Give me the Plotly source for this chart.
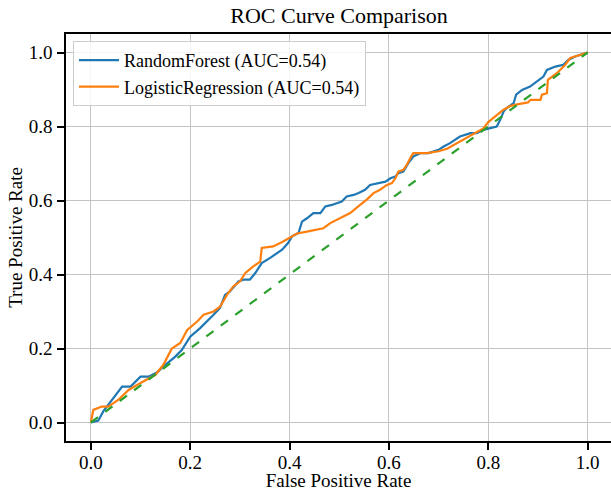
import plotly.graph_objects as go

# ---- data ----
rf_fpr = [0.000, 0.015, 0.025, 0.040, 0.063, 0.080, 0.100, 0.116, 0.133, 0.150,
          0.170, 0.183, 0.200, 0.220, 0.234, 0.247, 0.260, 0.270, 0.280, 0.297,
          0.307, 0.320, 0.331, 0.344, 0.361, 0.375, 0.385, 0.397, 0.405, 0.418,
          0.425, 0.435, 0.448, 0.462, 0.472, 0.485, 0.505, 0.515, 0.529, 0.539,
          0.552, 0.562, 0.576, 0.593, 0.603, 0.613, 0.619, 0.629, 0.639, 0.649,
          0.663, 0.680, 0.700, 0.710, 0.723, 0.743, 0.764, 0.777, 0.790, 0.804,
          0.817, 0.824, 0.831, 0.837, 0.851, 0.856, 0.868, 0.884, 0.898, 0.911,
          0.918, 0.935, 0.951, 0.961, 0.975, 0.988, 1.000]
rf_tpr = [0.000, 0.005, 0.030, 0.056, 0.097, 0.097, 0.124, 0.124, 0.135, 0.156,
          0.178, 0.196, 0.232, 0.255, 0.273, 0.291, 0.310, 0.345, 0.354, 0.381,
          0.386, 0.386, 0.404, 0.431, 0.445, 0.458, 0.467, 0.485, 0.503, 0.512,
          0.543, 0.552, 0.566, 0.566, 0.584, 0.588, 0.597, 0.611, 0.615, 0.620,
          0.629, 0.642, 0.647, 0.651, 0.660, 0.665, 0.674, 0.678, 0.701, 0.719,
          0.728, 0.728, 0.737, 0.746, 0.755, 0.773, 0.782, 0.782, 0.791, 0.796,
          0.800, 0.818, 0.841, 0.850, 0.863, 0.886, 0.899, 0.908, 0.922, 0.935,
          0.953, 0.962, 0.967, 0.980, 0.989, 0.994, 1.000]

lr_fpr = [0.000, 0.005, 0.022, 0.035, 0.055, 0.076, 0.100, 0.130, 0.146, 0.163,
          0.180, 0.194, 0.214, 0.227, 0.247, 0.260, 0.274, 0.287, 0.300, 0.311,
          0.327, 0.341, 0.344, 0.367, 0.387, 0.401, 0.415, 0.435, 0.455, 0.468,
          0.482, 0.502, 0.522, 0.542, 0.556, 0.569, 0.582, 0.596, 0.606, 0.613,
          0.619, 0.629, 0.636, 0.643, 0.649, 0.676, 0.700, 0.717, 0.737, 0.757,
          0.777, 0.790, 0.800, 0.814, 0.830, 0.844, 0.858, 0.880, 0.885, 0.905,
          0.908, 0.918, 0.920, 0.938, 0.955, 0.965, 0.978, 1.000]
lr_tpr = [0.000, 0.034, 0.043, 0.043, 0.061, 0.088, 0.107, 0.129, 0.156, 0.200,
          0.215, 0.250, 0.273, 0.291, 0.300, 0.313, 0.345, 0.368, 0.381, 0.404,
          0.422, 0.435, 0.472, 0.476, 0.489, 0.500, 0.511, 0.516, 0.521, 0.525,
          0.539, 0.552, 0.566, 0.588, 0.603, 0.620, 0.629, 0.642, 0.647, 0.660,
          0.678, 0.683, 0.696, 0.715, 0.728, 0.728, 0.733, 0.740, 0.755, 0.770,
          0.784, 0.795, 0.812, 0.827, 0.845, 0.855, 0.860, 0.865, 0.872, 0.872,
          0.886, 0.890, 0.926, 0.944, 0.967, 0.985, 0.990, 1.000]

chance = [0.0, 1.0]
series_names = ["RandomForest (AUC=0.54)", "LogisticRegression (AUC=0.54)"]
tick_vals = [0.0, 0.2, 0.4, 0.6, 0.8, 1.0]
tick_text = ["0.0", "0.2", "0.4", "0.6", "0.8", "1.0"]

FONT = "Liberation Serif, Times New Roman, serif"

fig = go.Figure()
fig.add_trace(go.Scatter(x=rf_fpr, y=rf_tpr, mode="lines", name=series_names[0],
                         line=dict(color="#1f77b4", width=2.2)))
fig.add_trace(go.Scatter(x=lr_fpr, y=lr_tpr, mode="lines", name=series_names[1],
                         line=dict(color="#ff7f0e", width=2.2)))
fig.add_trace(go.Scatter(x=chance, y=chance, mode="lines", showlegend=False,
                         line=dict(color="#2ca02c", width=2.2, dash="dash")))

axis_common = dict(
    showline=True, linecolor="black", linewidth=1.5,
    ticks="outside", ticklen=7, tickwidth=1.5, tickcolor="black",
    showgrid=True, gridcolor="#c4c4c4", gridwidth=1.3,
    zeroline=False, tickfont=dict(size=19, color="black", family=FONT),
    tickvals=tick_vals, ticktext=tick_text, automargin=False,
)

fig.update_layout(
    width=611, height=491, autosize=False,
    margin=dict(l=66, r=0, t=34, b=50, pad=0),
    paper_bgcolor="white", plot_bgcolor="white",
    font=dict(family=FONT, color="black"),
    title=dict(text="ROC Curve Comparison", x=(66 + 612) / 2 / 611, xanchor="center",
               y=1 - 15 / 491, yanchor="middle", yref="container",
               font=dict(size=22, family=FONT, color="black"), automargin=False),
    xaxis=dict(range=[-0.05, 1.047], mirror=True, ticklabelstandoff=-4,
               title=dict(text="False Positive Rate", font=dict(size=19), standoff=3),
               **axis_common),
    yaxis=dict(range=[-0.05, 1.05], mirror=False, ticklabelstandoff=1,
               title=dict(text="True Positive Rate", font=dict(size=19), standoff=1),
               **axis_common),
    legend=dict(x=(73 - 66) / 545, y=1 - (41 - 34) / 407, xanchor="left", yanchor="top",
                bgcolor="rgba(255,255,255,0.85)", bordercolor="#cccccc", borderwidth=1,
                font=dict(size=18, family=FONT, color="black"),
                itemwidth=40, tracegroupgap=0),
    showlegend=True,
)

fig.write_html("out.html", config={"displayModeBar": False},
               post_script="document.body.style.margin='0';document.body.style.overflow='hidden';")
